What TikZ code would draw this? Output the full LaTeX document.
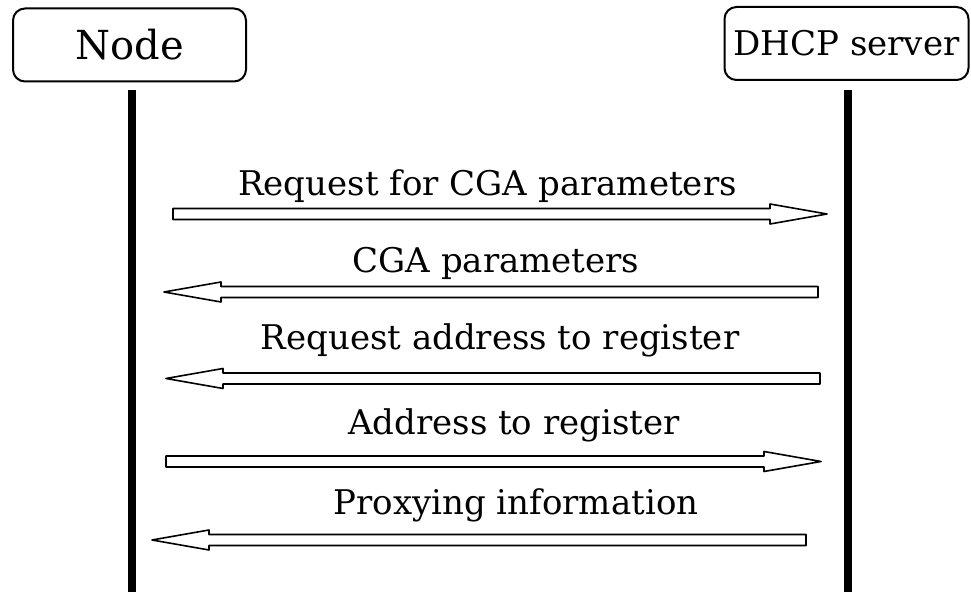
\documentclass[tikz,border=0pt]{standalone}
\usepackage{fontspec}
\setmainfont{DejaVu Serif}
\usepackage{tikz}
\usetikzlibrary{calc}
% hollow message arrows: #1 = tail, #2 = tip
\newcommand{\msgr}[2]{\draw[hollow] ($(#1)+(0,-5.5)$) -- ($(#2)+(-57,-5.5)$) -- ($(#2)+(-57,-10)$) -- (#2) -- ($(#2)+(-57,10)$) -- ($(#2)+(-57,5.5)$) -- ($(#1)+(0,5.5)$) -- cycle;}
\newcommand{\msgl}[2]{\draw[hollow] ($(#1)+(0,-5.5)$) -- ($(#2)+(57,-5.5)$) -- ($(#2)+(57,-10)$) -- (#2) -- ($(#2)+(57,10)$) -- ($(#2)+(57,5.5)$) -- ($(#1)+(0,5.5)$) -- cycle;}

\tikzset{
    actor/.style={draw, line width=1pt, rounded corners=6pt, inner sep=0pt},
    lifeline/.style={line width=4.25pt},
    hollow/.style={fill=white, line width=0.8pt, line join=round},
    msglabel/.style={anchor=base, inner sep=0pt, font=\fontsize{17}{20}\selectfont}
}

\begin{document}
\begin{tikzpicture}[x=0.5pt, y=-0.5pt]
        \useasboundingbox (0,0) rectangle (971,592);
        % actors
        \node[actor, minimum width=116.5pt, minimum height=36.5pt, font=\fontsize{20}{24}\selectfont] (node) at (129.5,45) {Node};
        \node[actor, minimum width=122pt, minimum height=36.5pt, font=\fontsize{17}{20}\selectfont] (dhcp) at (846.5,43.5) {DHCP server};
        % lifelines
        \coordinate (nodetop) at (132,90);
        \coordinate (nodeend) at (132,592);
        \coordinate (dhcptop) at (848,90);
        \coordinate (dhcpend) at (848,592);
        \draw[lifeline] (nodetop) -- (nodeend);
        \draw[lifeline] (dhcptop) -- (dhcpend);
        % message 1
        \coordinate (m1a) at (173,214);
        \coordinate (m1b) at (827,214);
        \msgr{m1a}{m1b}
        \node[msglabel] (l1) at (487.5,196) {Request for CGA parameters};
        % message 2
        \coordinate (m2a) at (818,292);
        \coordinate (m2b) at (164,292);
        \msgl{m2a}{m2b}
        \node[msglabel] (l2) at (496,273) {CGA parameters};
        % message 3
        \coordinate (m3a) at (820,378.5);
        \coordinate (m3b) at (166,378.5);
        \msgl{m3a}{m3b}
        \node[msglabel] (l3) at (500,350) {Request address to register};
        % message 4
        \coordinate (m4a) at (166,461.5);
        \coordinate (m4b) at (821,461.5);
        \msgr{m4a}{m4b}
        \node[msglabel] (l4) at (514,435) {Address to register};
        % message 5
        \coordinate (m5a) at (806,540);
        \coordinate (m5b) at (152,540);
        \msgl{m5a}{m5b}
        \node[msglabel] (l5) at (516,515) {Proxying information};
    \end{tikzpicture}
\end{document}
